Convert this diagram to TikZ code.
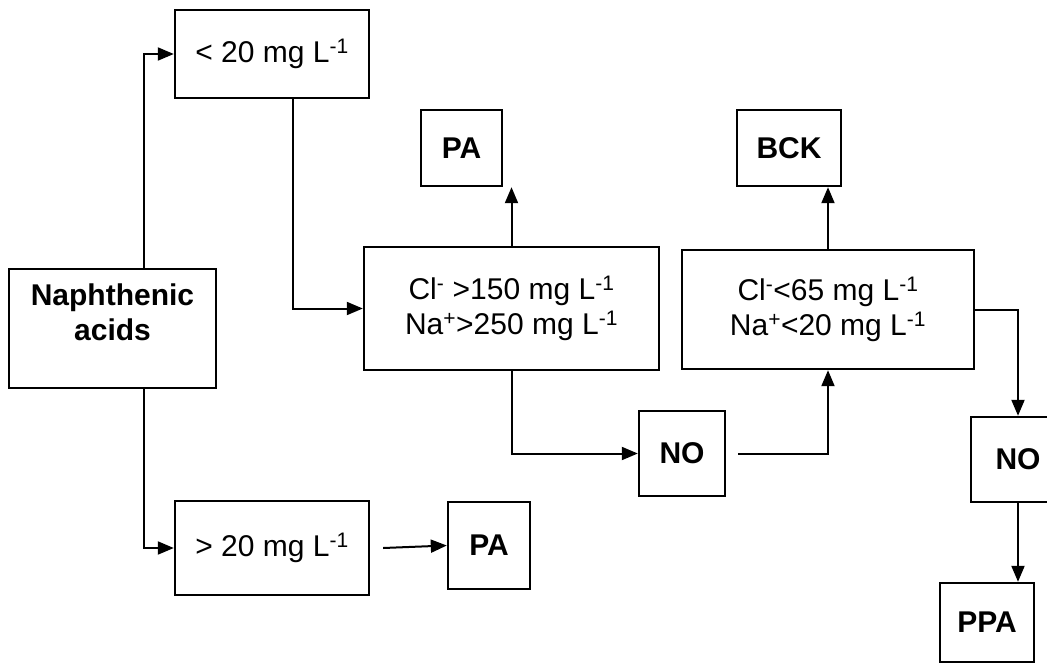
\documentclass[tikz,border=0pt]{standalone}
\usepackage{fontspec}
\setmainfont{Liberation Sans}
\usetikzlibrary{arrows.meta,calc}
\tikzset{
  flowbox/.style={draw=black, line width=2.4pt, inner sep=0pt, align=center,
    font=\fontsize{30}{35}\selectfont},
  flowbold/.style={flowbox, font=\fontsize{30}{35}\selectfont\bfseries},
  flowarrow/.style={line width=2pt, -{Triangle[length=16pt,width=13pt]}}
}

\begin{document}
\begin{tikzpicture}[x=1pt,y=-1pt]
    \useasboundingbox (0,0) rectangle (1047,667);
    \fill[white] (0,0) rectangle (1047,667);
    \clip (0,0) rectangle (1047,667);

    \node[flowbold, minimum width=207pt, minimum height=119pt] (nap) at (112.5,328.5)
      {\raisebox{6pt}[0pt][0pt]{\begin{tabular}{@{}c@{}}Naphthenic\\acids\end{tabular}}};
    \node[flowbox, minimum width=194pt, minimum height=88pt] (lt20) at (272,54) {< 20 mg L\textsuperscript{-1}};
    \node[flowbox, minimum width=194pt, minimum height=94pt] (gt20) at (272,548) {> 20 mg L\textsuperscript{-1}};
    \node[flowbold, minimum width=81pt, minimum height=76pt] (patop) at (461.5,148) {PA};
    \node[flowbold, minimum width=104pt, minimum height=76pt] (bck) at (789,148) {BCK};
    \node[flowbox, minimum width=295pt, minimum height=123pt] (clhigh) at (511.5,308.5)
      {Cl\textsuperscript{-} >150 mg L\textsuperscript{-1}\\Na\textsuperscript{+}>250 mg L\textsuperscript{-1}};
    \node[flowbox, minimum width=292pt, minimum height=119pt] (cllow) at (828,309.5)
      {Cl\textsuperscript{-}<65 mg L\textsuperscript{-1}\\Na\textsuperscript{+}<20 mg L\textsuperscript{-1}};
    \node[flowbold, minimum width=86pt, minimum height=85pt] (nomid) at (682,453.5) {NO};
    \node[flowbold, minimum width=94pt, minimum height=85pt] (noright) at (1018,459.5) {NO};
    \node[flowbold, minimum width=82pt, minimum height=87pt] (pabot) at (489,545.5) {PA};
    \node[flowbold, minimum width=94pt, minimum height=79pt] (ppa) at (987,622.5) {PPA};

    \draw[flowarrow] ([xshift=31.5pt]nap.north) |- (lt20.west);
    \draw[flowarrow] ([xshift=31.5pt]nap.south) |- (gt20.west);
    \draw[flowarrow] ([xshift=21pt]lt20.south) |- (clhigh.west);
    \draw[flowarrow] (clhigh.north) -- (clhigh.north |- patop.south);
    \draw[flowarrow] (clhigh.south) |- (nomid.west);
    \draw[flowarrow] ([xshift=12pt]nomid.east) -| (cllow.south);
    \draw[flowarrow] (cllow.north) -- (cllow.north |- bck.south);
    \draw[flowarrow] (cllow.east) -| (noright.north);
    \draw[flowarrow] (noright.south) -- (noright.south |- ppa.north);
    \draw[flowarrow] ([xshift=13pt]gt20.east) -- (pabot.west);
  \end{tikzpicture}
\end{document}
